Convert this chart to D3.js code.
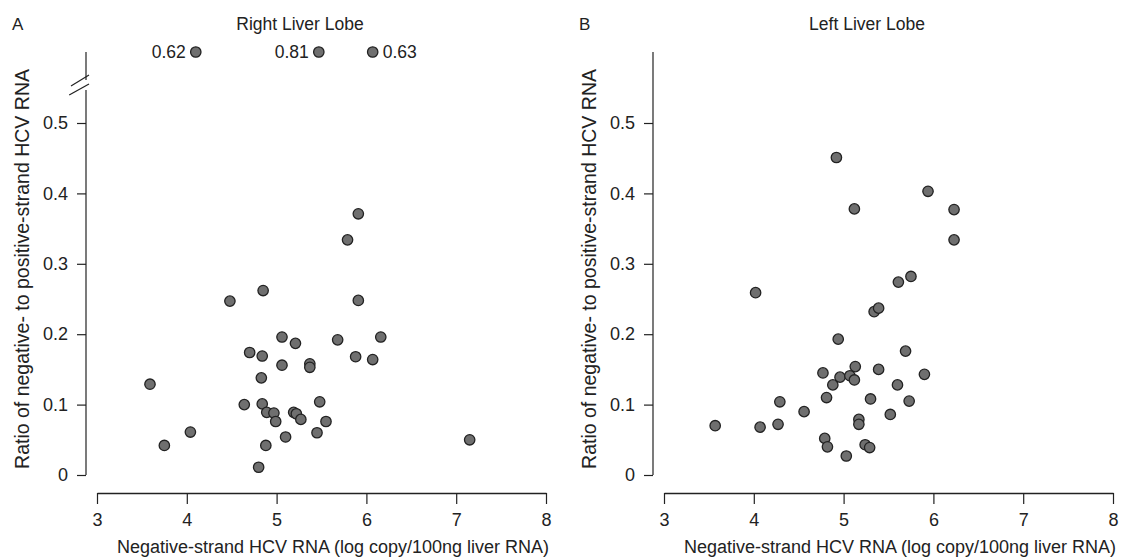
<!DOCTYPE html>
<html>
<head>
<meta charset="utf-8">
<script src="https://cdn.jsdelivr.net/npm/d3@7"></script>
<style>
    body { margin: 0; background: #fff; }
    svg { font-family: "Liberation Sans", Arial, sans-serif; }
    .tick text { font-size: 18px; fill: #222; }
    .tick line, .axis-line { stroke: #222; stroke-width: 1.2; }
    .dot { fill: #6f6f6f; stroke: #222; stroke-width: 1.3; }
</style>
</head>
<body>
<svg id="chart" width="1122" height="560"></svg>
<script>
// tick labels
const xTicks = [3, 4, 5, 6, 7, 8];
const yTicks = [0, 0.1, 0.2, 0.3, 0.4, 0.5];

// Right liver lobe: [log copies, ratio]
const rightX = [3.59, 3.75, 4.04, 4.48, 4.85, 4.64, 4.70, 4.84, 4.83, 4.84, 4.89, 4.97, 4.99, 4.88, 4.80,
    5.06, 5.06, 5.10, 5.21, 5.19, 5.22, 5.27, 5.37, 5.37, 5.48, 5.55, 5.45, 5.68, 6.16, 5.88, 6.07,
    5.91, 5.91, 5.79, 7.15];
const rightY = [0.129, 0.042, 0.061, 0.247, 0.262, 0.100, 0.174, 0.169, 0.138, 0.101, 0.089, 0.088, 0.076, 0.042, 0.011,
    0.196, 0.156, 0.054, 0.187, 0.089, 0.087, 0.079, 0.158, 0.153, 0.104, 0.076, 0.060, 0.192, 0.196, 0.168, 0.164,
    0.248, 0.371, 0.334, 0.050];

// off-scale points above the axis break
const rightOutX = [4.10, 5.47, 6.07];
const rightOutY = [0.62, 0.81, 0.63];

// Left liver lobe
const leftX = [4.92, 5.12, 4.02, 5.94, 6.23, 6.23, 5.75, 5.61, 5.34, 5.39,
    3.57, 4.07, 4.27, 4.29, 4.56, 4.94, 4.77, 4.81, 4.88, 4.96,
    4.79, 4.82, 5.03, 5.07, 5.12, 5.13, 5.69, 5.90, 5.39, 5.60,
    5.30, 5.73, 5.52, 5.17, 5.17, 5.24, 5.29];
const leftY = [0.451, 0.378, 0.259, 0.403, 0.377, 0.334, 0.282, 0.274, 0.232, 0.237,
    0.070, 0.068, 0.072, 0.104, 0.090, 0.193, 0.145, 0.110, 0.128, 0.139,
    0.052, 0.040, 0.027, 0.141, 0.135, 0.154, 0.176, 0.143, 0.150, 0.128,
    0.108, 0.105, 0.086, 0.079, 0.072, 0.043, 0.039];

const xLabel = 'Negative-strand HCV RNA (log copy/100ng liver RNA)';
const yLabel = 'Ratio of negative- to positive-strand HCV RNA';

const svg = d3.select('#chart');

const drawPanel = opts => {
    const {left, letter, title, xs, ys, broken} = opts;

    const axisX = left + 86,
        top = 52,
        x = d3.scaleLinear().domain([3, 8]).range([left + 97, left + 546]),
        y = d3.scaleLinear().domain([0, 0.5]).range([475, 123]);

    const g = svg.append('g');

    // letter + title
    g.append('text')
        .attr('x', left + 12)
        .attr('y', 30)
        .style('font-size', '17px')
        .style('fill', '#222')
        .text(letter);
    g.append('text')
        .attr('x', left + 300)
        .attr('y', 30)
        .attr('text-anchor', 'middle')
        .style('font-size', '17.5px')
        .style('fill', '#222')
        .text(title);

    // y axis
    const yAxis = g.append('g')
        .attr('transform', `translate(${axisX},0)`)
        .call(d3.axisLeft(y).tickValues(yTicks).tickSize(9).tickPadding(9).tickSizeOuter(0)
            .tickFormat(d => d === 0 ? '0' : d3.format('.1f')(d)));
    yAxis.select('.domain').remove();

    if (broken) {
        g.append('line').attr('class', 'axis-line')
            .attr('x1', axisX).attr('x2', axisX)
            .attr('y1', top).attr('y2', 80);
        g.append('line').attr('class', 'axis-line')
            .attr('x1', axisX).attr('x2', axisX)
            .attr('y1', 90).attr('y2', y(0));
        [0, 9].forEach(off => {
            g.append('line').attr('class', 'axis-line')
                .attr('x1', axisX - 15 - off / 5).attr('y1', 86 + off)
                .attr('x2', axisX + 3).attr('y2', 75 + off);
        });
    } else {
        g.append('line').attr('class', 'axis-line')
            .attr('x1', axisX).attr('x2', axisX)
            .attr('y1', top).attr('y2', y(0));
    }

    // x axis
    const xAxis = g.append('g')
        .attr('transform', 'translate(0,493)')
        .call(d3.axisBottom(x).tickValues(xTicks).tickSize(11).tickPadding(9).tickSizeOuter(0)
            .tickFormat(d3.format('d')));
    xAxis.select('.domain')
        .attr('stroke', '#222')
        .attr('stroke-width', 1.3);

    // axis labels
    g.append('text')
        .attr('x', left + 333)
        .attr('y', 553)
        .attr('text-anchor', 'middle')
        .style('font-size', '18px')
        .style('fill', '#222')
        .text(xLabel);
    g.append('text')
        .attr('transform', `translate(${axisX - 57},${269})rotate(-90)`)
        .attr('text-anchor', 'middle')
        .style('font-size', '19.5px')
        .style('fill', '#222')
        .text(yLabel);

    // points
    g.append('g')
        .selectAll('circle')
        .data(d3.zip(xs, ys))
        .enter().append('circle')
        .attr('class', 'dot')
        .attr('cx', d => x(d[0]))
        .attr('cy', d => y(d[1]))
        .attr('r', 5.2);

    return {g, x, top};
};

const right = drawPanel({
    left: 0, letter: 'A', title: 'Right Liver Lobe',
    xs: rightX, ys: rightY, broken: true
});

// off-scale points, drawn in the top row above the break
const outliers = d3.zip(rightOutX, rightOutY);
const outG = right.g.append('g');
outG.selectAll('circle')
    .data(outliers)
    .enter().append('circle')
    .attr('class', 'dot')
    .attr('cx', d => right.x(d[0]))
    .attr('cy', right.top)
    .attr('r', 5.2);
outG.selectAll('text')
    .data(outliers)
    .enter().append('text')
    .attr('x', (d, i) => i === 2 ? right.x(d[0]) + 10 : right.x(d[0]) - 10)
    .attr('y', right.top + 6)
    .attr('text-anchor', (d, i) => i === 2 ? 'start' : 'end')
    .style('font-size', '17.5px')
    .style('fill', '#222')
    .text(d => d3.format('.2f')(d[1]));

drawPanel({
    left: 567, letter: 'B', title: 'Left Liver Lobe',
    xs: leftX, ys: leftY, broken: false
});
</script>
</body>
</html>
